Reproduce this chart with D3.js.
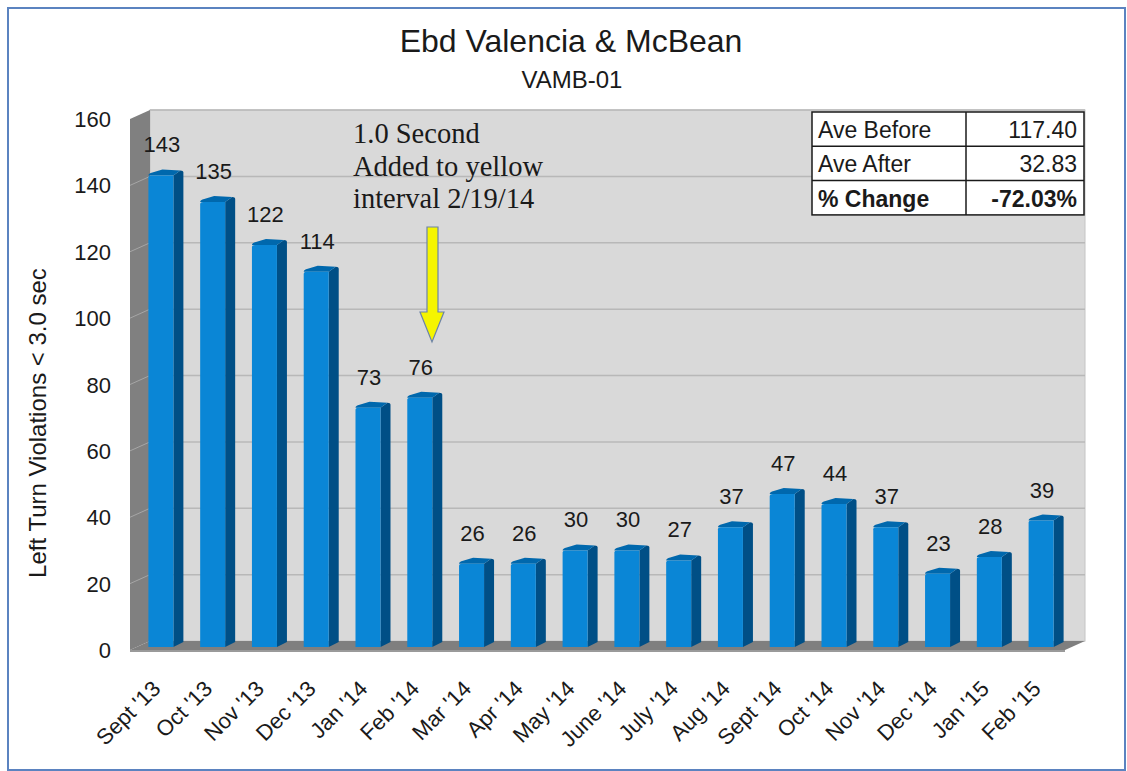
<!DOCTYPE html>
<html>
<head>
<meta charset="utf-8">
<script src="https://cdn.jsdelivr.net/npm/d3@7"></script>
<style>
  body { margin: 0; background: #fff; }
  svg { display: block; font-family: "Liberation Sans", Arial, sans-serif; }
</style>
</head>
<body>
<div id="chart"></div>
<script>
// data
let months = ["Sept '13", "Oct '13", "Nov '13", "Dec '13", "Jan '14", "Feb '14",
              "Mar '14", "Apr '14", "May '14", "June '14", "July '14", "Aug '14",
              "Sept '14", "Oct '14", "Nov '14", "Dec '14", "Jan '15", "Feb '15"];
let violations = [143, 135, 122, 114, 73, 76, 26, 26, 30, 30, 27, 37, 47, 44, 37, 23, 28, 39];
let yTicks = [0, 20, 40, 60, 80, 100, 120, 140, 160];
let statLabels = ["Ave Before", "Ave After", "% Change"];
let statValues = ["117.40", "32.83", "-72.03%"];
let noteLines = ["1.0 Second", "Added to yellow", "interval 2/19/14"];

let width = 1127, height = 771;

// 3d offset of the back wall
let dx = 20, dy = -9;
let plotLeft = 130, plotRight = 1065;

let svg = d3.select("#chart").append("svg")
    .attr("width", width)
    .attr("height", height);

// outer frame
svg.append("rect")
    .attr("x", 8).attr("y", 8)
    .attr("width", 1117).attr("height", 762)
    .attr("fill", "none")
    .attr("stroke", "#5b83c0")
    .attr("stroke-width", 2);

let x = d3.scaleBand()
    .domain(months)
    .range([135, 1067]);

let y = d3.scaleLinear()
    .domain([0, 160])
    .range([650, 119]);

// back wall
svg.append("rect")
    .attr("x", plotLeft + dx).attr("y", y(160) + dy)
    .attr("width", plotRight - plotLeft)
    .attr("height", y(0) - y(160))
    .attr("fill", "#d9d9d9")
    .attr("stroke", "#c4c4c4");

// left wall
svg.append("polygon")
    .attr("points", [[plotLeft, y(160)], [plotLeft + dx, y(160) + dy],
                     [plotLeft + dx, y(0) + dy], [plotLeft, y(0)]].join(" "))
    .attr("fill", "#808080");

// grid lines on back wall + left wall
svg.selectAll(".grid")
    .data(yTicks.slice(1))
    .enter()
    .append("line")
    .attr("class", "grid")
    .attr("x1", plotLeft + dx).attr("x2", plotRight + dx)
    .attr("y1", d => y(d) + dy).attr("y2", d => y(d) + dy)
    .attr("stroke", "#b8b8b8")
    .attr("stroke-width", 1.5);

svg.selectAll(".wallgrid")
    .data(yTicks.slice(1, -1))
    .enter()
    .append("line")
    .attr("class", "wallgrid")
    .attr("x1", plotLeft).attr("x2", plotLeft + dx)
    .attr("y1", d => y(d)).attr("y2", d => y(d) + dy)
    .attr("stroke", "#a6a6a6")
    .attr("stroke-width", 1);

// floor
svg.append("polygon")
    .attr("points", [[plotLeft, y(0)], [plotLeft + dx, y(0) + dy],
                     [plotRight + dx, y(0) + dy], [plotRight, y(0)]].join(" "))
    .attr("fill", "#7f7f7f");
svg.append("rect")
    .attr("x", plotLeft).attr("y", y(0))
    .attr("width", plotRight - plotLeft).attr("height", 2)
    .attr("fill", "#9a9a9a");

// bars
let faceW = 25, sideW = 10, topDy = -5;
let bars = svg.selectAll(".bar")
    .data(violations)
    .enter()
    .append("g")
    .attr("class", "bar")
    .attr("transform", (d, i) => "translate(" + (x(months[i]) + x.bandwidth() / 2 - faceW / 2) + ",0)");

// side
bars.append("path")
    .attr("d", d => {
        let top = y(d), bot = y(0) - 3;
        return "M" + faceW + "," + bot + " L" + (faceW + sideW) + "," + (bot + topDy) +
               " L" + (faceW + sideW) + "," + (top + topDy + 2) +
               " Q" + (faceW + sideW) + "," + (top + topDy) + " " + (faceW + sideW - 3) + "," + (top + topDy) +
               " L" + faceW + "," + top + " Z";
    })
    .attr("fill", "#004f86");

// top cap
bars.append("path")
    .attr("d", d => {
        let top = y(d);
        return "M0," + top + " Q0," + (top - 2) + " 4," + (top - 3) +
               " L" + (sideW + 4) + "," + (top + topDy - 1) +
               " L" + (faceW + sideW - 3) + "," + (top + topDy) +
               " L" + faceW + "," + top + " Z";
    })
    .attr("fill", "#0068ad");

// front
bars.append("path")
    .attr("d", d => {
        let top = y(d), bot = y(0) - 3;
        return "M0," + bot + " L0," + (top + 2) + " Q0," + top + " 3," + top +
               " L" + faceW + "," + top + " L" + faceW + "," + bot + " Z";
    })
    .attr("fill", "#0a86d6");

// value labels
svg.selectAll(".val")
    .data(violations)
    .enter()
    .append("text")
    .attr("class", "val")
    .attr("x", (d, i) => x(months[i]) + x.bandwidth() / 2 + 1)
    .attr("y", d => y(d) - 23)
    .attr("text-anchor", "middle")
    .attr("font-size", 22)
    .attr("fill", "#1a1a1a")
    .text(d => d);

// y axis labels
svg.selectAll(".ytick")
    .data(yTicks)
    .enter()
    .append("text")
    .attr("class", "ytick")
    .attr("x", 111)
    .attr("y", d => y(d) + 8)
    .attr("text-anchor", "end")
    .attr("font-size", 22)
    .attr("fill", "#1a1a1a")
    .text(d => d);

// x axis labels
svg.selectAll(".xlab")
    .data(months)
    .enter()
    .append("text")
    .attr("class", "xlab")
    .attr("transform", d => "translate(" + (x(d) + x.bandwidth() / 2 + 1) + ",690) rotate(-45)")
    .attr("text-anchor", "end")
    .attr("font-size", 22)
    .attr("fill", "#1a1a1a")
    .text(d => d);

// titles
svg.append("text")
    .attr("x", 571).attr("y", 52)
    .attr("text-anchor", "middle")
    .attr("font-size", 32)
    .attr("fill", "#1a1a1a")
    .text("Ebd Valencia & McBean");

svg.append("text")
    .attr("x", 572).attr("y", 88)
    .attr("text-anchor", "middle")
    .attr("font-size", 24)
    .attr("fill", "#1a1a1a")
    .text("VAMB-01");

svg.append("text")
    .attr("transform", "translate(46,423) rotate(-90)")
    .attr("text-anchor", "middle")
    .attr("font-size", 24)
    .attr("fill", "#1a1a1a")
    .text("Left Turn Violations < 3.0 sec");

// annotation
svg.selectAll(".note")
    .data(noteLines)
    .enter()
    .append("text")
    .attr("class", "note")
    .attr("x", 353)
    .attr("y", (d, i) => 143 + i * 32.5)
    .attr("font-family", "'Liberation Serif', 'Times New Roman', serif")
    .attr("font-size", 28.5)
    .attr("fill", "#1a1a1a")
    .text(d => d);

// yellow arrow
svg.append("path")
    .attr("d", "M427,227 L438,227 L438,312 L444,312 L432,342 L420,312 L427,312 Z")
    .attr("fill", "#f5f500")
    .attr("stroke", "#6d84a8")
    .attr("stroke-width", 1.2);

// stats table
let tx = 812, tw1 = 154, tw2 = 118, rowH = 34.3, ty = 112;
let table = svg.append("g");
table.append("rect")
    .attr("x", tx).attr("y", ty)
    .attr("width", tw1 + tw2).attr("height", rowH * 3)
    .attr("fill", "#fff");

statLabels.forEach((lab, i) => {
    table.append("text")
        .attr("x", tx + 6).attr("y", ty + i * rowH + 26)
        .attr("font-size", 23)
        .attr("font-weight", i === 2 ? "bold" : "normal")
        .attr("fill", "#1a1a1a")
        .text(lab);
    table.append("text")
        .attr("x", tx + tw1 + tw2 - 7).attr("y", ty + i * rowH + 26)
        .attr("text-anchor", "end")
        .attr("font-size", 23)
        .attr("font-weight", i === 2 ? "bold" : "normal")
        .attr("fill", "#1a1a1a")
        .text(statValues[i]);
});

table.selectAll(".hline")
    .data([1, 2])
    .enter()
    .append("line")
    .attr("x1", tx).attr("x2", tx + tw1 + tw2)
    .attr("y1", d => ty + d * rowH).attr("y2", d => ty + d * rowH)
    .attr("stroke", "#1a1a1a").attr("stroke-width", 1.5);

table.append("line")
    .attr("x1", tx + tw1).attr("x2", tx + tw1)
    .attr("y1", ty).attr("y2", ty + rowH * 3)
    .attr("stroke", "#1a1a1a").attr("stroke-width", 1.5);

table.append("rect")
    .attr("x", tx).attr("y", ty)
    .attr("width", tw1 + tw2).attr("height", rowH * 3)
    .attr("fill", "none")
    .attr("stroke", "#1a1a1a").attr("stroke-width", 1.5);
</script>
</body>
</html>
